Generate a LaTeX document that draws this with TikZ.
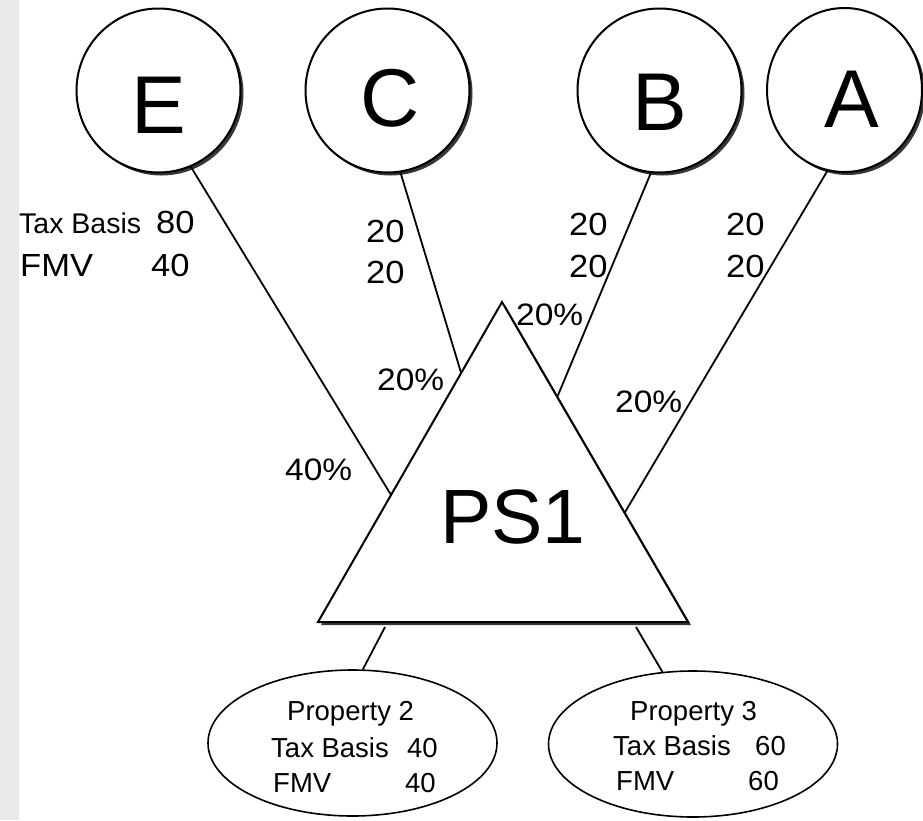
\documentclass[tikz,border=0pt]{standalone}
\usepackage{fontspec}
\setmainfont{Liberation Sans}
\newfontfamily\widesans[FakeStretch=1.08]{Liberation Sans}
\usetikzlibrary{shapes.geometric,shadows,calc}
\definecolor{stripgray}{RGB}{233,233,233}
\definecolor{shadowgray}{RGB}{55,55,55}
\begin{document}
\begin{tikzpicture}[x=1pt,y=-1pt,
  partner/.style={circle,draw,line width=2pt,fill=white,inner sep=0pt,
    minimum size=164pt,
    drop shadow={shadow xshift=3pt,shadow yshift=-3pt,fill=shadowgray,opacity=1}},
  letter/.style={anchor=base,inner sep=0pt,font=\fontsize{82}{90}\selectfont},
  asset/.style={ellipse,draw,line width=1.6pt,fill=white,inner sep=0pt,
    minimum width=289pt,minimum height=146pt},
  link/.style={line width=1.8pt},
  lbl/.style={anchor=base west,inner sep=0pt,font=\widesans\fontsize{32}{36}\selectfont},
  sml/.style={anchor=base west,inner sep=0pt,font=\fontsize{27.5}{32}\selectfont},
  pct/.style={anchor=base west,inner sep=0pt,font=\widesans\fontsize{31}{36}\selectfont}]
\useasboundingbox (0,0) rectangle (923,820);
\fill[stripgray] (0,0) rectangle (19,820);

% partners
\node[partner] (E) at (158.5,90.5) {};
\node[partner] (C) at (387.5,90.5) {};
\node[partner] (B) at (659.5,90.5) {};
\node[partner,ellipse,minimum size=0pt,minimum width=155pt,minimum height=164pt] (A) at (844.5,90) {};
\node[letter] (Et) at (158.5,133) {E};
\node[letter] (Ct) at (390,126) {C};
\node[letter] (Bt) at (660,130) {B};
\node[letter] (At) at (852,127) {A};

% partnership triangle
\coordinate (apex) at (502,302);
\coordinate (bl) at (318,622);
\coordinate (br) at (688,622);
\fill[shadowgray] ($(apex)+(3,3)$) -- ($(bl)+(3,3)$) -- ($(br)+(3,3)$) -- cycle;
\draw[line width=2pt,fill=white,line join=miter] (apex) -- (bl) -- (br) -- cycle;
\node[font=\fontsize{77}{90}\selectfont,anchor=base west,inner sep=0pt] (ps) at (440,543) {PS1};

% attachment points on the triangle
\coordinate (tE) at ($(bl)!0.397!(apex)$);
\coordinate (tC) at ($(bl)!0.778!(apex)$);
\coordinate (tB) at ($(br)!0.703!(apex)$);
\coordinate (tA) at ($(br)!0.341!(apex)$);
\coordinate (bL) at (385,627);
\coordinate (bR) at (636,627);

% ownership lines
\draw[link] (E.-67) -- (tE);
\draw[link] (C.-81) -- (tC);
\draw[link] (B.-96) -- (tB);
\draw[link] (A.-102) -- (tA);

% properties
\node[asset] (P2) at (352.5,743) {};
\node[asset] (P3) at (693,744) {};
\draw[link] (bL) -- (P2.82);
\draw[link] (bR) -- (P3.113);

% partner figures
\node[sml,font=\fontsize{28.5}{32}\selectfont] (eb) at (19,233) {Tax Basis};
\node[lbl] (ebv) at (156,233) {80};
\node[lbl] (ef) at (20,276) {FMV};
\node[lbl] (efv) at (151,276) {40};
\node[lbl] (cb) at (366,242) {20};
\node[lbl] (cf) at (366,283) {20};
\node[lbl] (bb) at (569,235) {20};
\node[lbl] (bf) at (569,277) {20};
\node[lbl] (ab) at (726,235) {20};
\node[lbl] (af) at (726,277) {20};

% ownership percentages
\node[pct] (pB) at (516,325) {20\%};
\node[pct] (pC) at (377,390) {20\%};
\node[pct] (pE) at (285,480) {40\%};
\node[pct] (pA) at (615,412) {20\%};

% property figures
\node[sml] (p2t) at (287,720) {Property 2};
\node[sml] (p2b) at (271,757) {Tax Basis};
\node[sml] (p2bv) at (407,757) {40};
\node[sml] (p2f) at (273,792) {FMV};
\node[sml] (p2fv) at (405,792) {40};
\node[sml] (p3t) at (630,720) {Property 3};
\node[sml] (p3b) at (613,755) {Tax Basis};
\node[sml] (p3bv) at (755,755) {60};
\node[sml] (p3f) at (616,790) {FMV};
\node[sml] (p3fv) at (748,790) {60};
\end{tikzpicture}
\end{document}
